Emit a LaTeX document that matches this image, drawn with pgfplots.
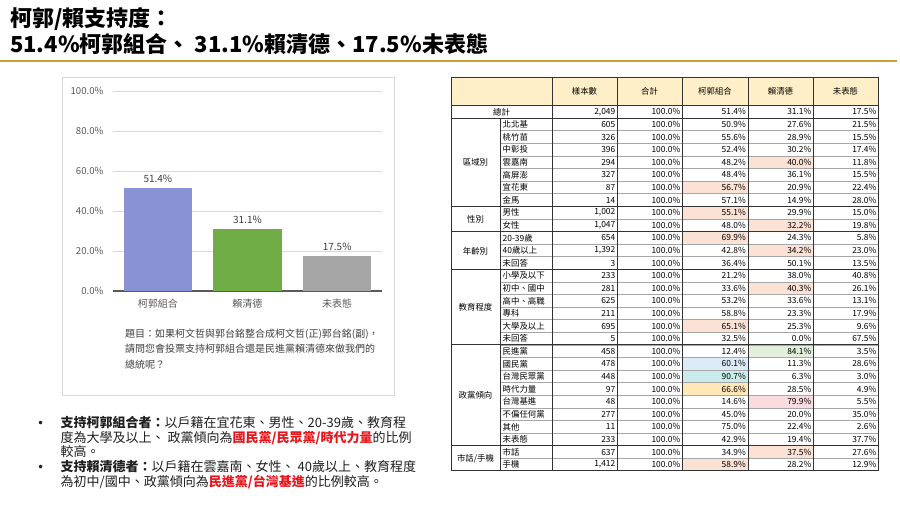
\documentclass[border=0pt]{standalone}
\usepackage{pgfplots}
\pgfplotsset{compat=1.18}
\usepackage{fontspec}
\setmainfont{Noto Sans CJK TC}
\newfontfamily\dejavu{DejaVu Sans}

\definecolor{gold}{HTML}{C9A133}
\definecolor{boxgray}{HTML}{D9D9D9}
\definecolor{gridgray}{HTML}{D9D9D9}
\definecolor{axisgray}{HTML}{595959}
\definecolor{labgray}{HTML}{595959}
\definecolor{txtgray}{HTML}{404040}
\definecolor{barA}{HTML}{8A92D6}
\definecolor{barB}{HTML}{70AD47}
\definecolor{barC}{HTML}{A6A6A6}
\definecolor{hdr}{HTML}{FFEFC8}
\definecolor{peach}{HTML}{FBE2D5}
\definecolor{lgreen}{HTML}{E2EFDA}
\definecolor{lblue}{HTML}{DDEBF7}
\definecolor{lteal}{HTML}{C9ECEA}
\definecolor{lorange}{HTML}{FFE7B8}
\definecolor{lpink}{HTML}{FADCE0}
\definecolor{rowline}{HTML}{A6A6A6}
\definecolor{darkline}{HTML}{333333}
\definecolor{hot}{HTML}{E8161B}

\newcommand{\tf}{\fontsize{8.4}{9}\selectfont}
% one data row of the table
\newcommand{\trow}[6]{%
  \pgfmathsetmacro{\yc}{118+12.6*#1+6.5}%
  \node[anchor=west,inner sep=0pt,font=\tf] at (502.5,\yc) {#2};%
  \node[anchor=east,inner sep=0pt,font=\tf] at (615.5,\yc) {#3};%
  \node[anchor=east,inner sep=0pt,font=\tf] at (680.5,\yc) {100.0\%};%
  \node[anchor=east,inner sep=0pt,font=\tf] at (746,\yc) {#4\%};%
  \node[anchor=east,inner sep=0pt,font=\tf] at (811.5,\yc) {#5\%};%
  \node[anchor=east,inner sep=0pt,font=\tf] at (876.5,\yc) {#6\%};%
}
% highlighted cell
\newcommand{\hl}[4]{%
  \pgfmathsetmacro{\ya}{118+12.6*#1}%
  \pgfmathsetmacro{\yb}{118+12.6*(#1+1)}%
  \fill[#4] (#2,\ya) rectangle (#3,\yb);%
}
\newcommand{\hlk}[2]{\hl{#1}{682}{748}{#2}}
\newcommand{\hll}[2]{\hl{#1}{748}{813}{#2}}

\begin{document}
\begin{tikzpicture}[x=1pt,y=-1pt]
\useasboundingbox (0,0) rectangle (900,506);
\fill[white] (0,0) rectangle (900,506);

% title
\node[anchor=base west,inner sep=0pt,font=\fontsize{22}{22}\selectfont\bfseries] at (10,27) {柯郭/賴支持度：};
\node[anchor=base west,inner sep=0pt,font=\fontsize{22}{22}\selectfont\bfseries] at (10,52) {51.4\%柯郭組合、 31.1\%賴清德、17.5\%未表態};
\draw[gold,line width=2pt] (0,61) -- (897,61);

% chart box
\draw[boxgray,fill=white,line width=0.8pt] (62,77) rectangle (394,395);

\begin{axis}[
  at={(113pt,-291pt)}, anchor=south west,
  scale only axis, width=269pt, height=200pt,
  xmin=-0.5, xmax=2.5, ymin=0, ymax=100,
  ybar, bar width=68pt, bar shift=0pt,
  axis x line*=bottom, axis y line*=left,
  y axis line style={draw=none},
  x axis line style={draw=axisgray,line width=1.2pt,-},
  xtick={0,1,2}, xticklabels={柯郭組合,賴清德,未表態},
  ytick={0,20,40,60,80,100},
  ymajorgrids, major grid style={draw=gridgray,line width=0.8pt},
  major tick length=0pt,
  /pgf/number format/assume math mode=true,
  yticklabel={\pgfmathprintnumber[fixed,fixed zerofill,precision=1]{\tick}\%},
  yticklabel style={font=\fontsize{9.6}{10}\selectfont,text=labgray,xshift=-6pt},
  xticklabel style={font=\fontsize{10}{10}\selectfont,text=labgray,yshift=-5pt},
  nodes near coords={\pgfmathprintnumber[fixed,fixed zerofill,precision=1]{\pgfplotspointmeta}\%},
  nodes near coords style={font=\fontsize{10}{10}\selectfont,text=txtgray,yshift=2pt},
  clip=false,
]
\addplot[fill=barA,draw=none] coordinates {(0,51.4)};
\addplot[fill=barB,draw=none] coordinates {(1,31.1)};
\addplot[fill=barC,draw=none] coordinates {(2,17.5)};
\end{axis}

% question text
\begin{scope}[every node/.style={anchor=base west,inner sep=0pt,font=\fontsize{10}{10}\selectfont,text=txtgray}]
\node at (125,337) {題目：如果柯文哲與郭台銘整合成柯文哲(正)郭台銘(副)，};
\node at (125,352.5) {請問您會投票支持柯郭組合還是民進黨賴清德來做我們的};
\node at (125,368) {總統呢？};
\end{scope}

% bullets
\begin{scope}[every node/.style={anchor=base west,inner sep=0pt,font=\fontsize{13}{13}\selectfont,text=black!88}]
\node[font=\dejavu\fontsize{12}{12}\selectfont] at (37,427.5) {•};
\node[font=\dejavu\fontsize{12}{12}\selectfont] at (37,471.5) {•};
\node at (60.5,427.5) {\textbf{支持柯郭組合者：}以戶籍在宜花東、男性、20-39歲、教育程};
\node at (60.5,442) {度為大學及以上、 政黨傾向為\textbf{\color{hot}國民黨/民眾黨/時代力量}的比例};
\node at (60.5,456.5) {較高。};
\node at (60.5,471.5) {\textbf{支持賴清德者：}以戶籍在雲嘉南、女性、 40歲以上、教育程度};
\node at (60.5,486) {為初中/國中、政黨傾向為\textbf{\color{hot}民進黨/台灣基進}的比例較高。};
\end{scope}

% table fills
\fill[hdr] (451,77) rectangle (878,105);
\hll{3}{peach}
\hlk{5}{peach}
\hlk{7}{peach}
\hll{8}{peach}
\hlk{9}{peach}
\hll{10}{peach}
\hll{13}{peach}
\hlk{16}{peach}
\hll{18}{lgreen}
\hlk{19}{lblue}
\hlk{20}{lteal}
\hlk{21}{lorange}
\hll{22}{lpink}
\hll{26}{peach}
\hlk{27}{peach}

% table lines
\foreach \i in {1,...,27} {
  \pgfmathsetmacro{\yy}{118+12.6*\i}
  \draw[rowline,line width=0.6pt] (500,\yy) -- (878,\yy);
}
\foreach \i in {7,9,12,18,26} {
  \pgfmathsetmacro{\yy}{118+12.6*\i}
  \draw[darkline,line width=0.8pt] (451,\yy) -- (878,\yy);
}
\draw[darkline,line width=0.8pt] (451,105) -- (878,105);
\draw[darkline,line width=0.8pt] (451,118) -- (878,118);
\foreach \x in {552,617,682,748,813}
  \draw[darkline,line width=0.7pt] (\x,77) -- (\x,470.8);
\draw[darkline,line width=0.7pt] (500,118) -- (500,470.8);
\draw[darkline,line width=0.9pt] (451,77) rectangle (878,470.8);

% header and total row
\begin{scope}[every node/.style={inner sep=0pt,font=\tf}]
\node at (584.5,91) {樣本數};
\node at (649.5,91) {合計};
\node at (715,91) {柯郭組合};
\node at (780.5,91) {賴清德};
\node at (845.5,91) {未表態};
\node at (501.5,111.8) {總計};
\node[anchor=east] at (615.5,111.8) {2,049};
\node[anchor=east] at (680.5,111.8) {100.0\%};
\node[anchor=east] at (746,111.8) {51.4\%};
\node[anchor=east] at (811.5,111.8) {31.1\%};
\node[anchor=east] at (876.5,111.8) {17.5\%};
\node at (475.5,162.8) {區域別};
\node at (475.5,219.3) {性別};
\node at (475.5,250.8) {年齡別};
\node at (475.5,307.5) {教育程度};
\node at (475.5,395.7) {政黨傾向};
\node at (475.5,458.7) {市話/手機};
\end{scope}

% table rows
\trow{0}{北北基}{605}{50.9}{27.6}{21.5}
\trow{1}{桃竹苗}{326}{55.6}{28.9}{15.5}
\trow{2}{中彰投}{396}{52.4}{30.2}{17.4}
\trow{3}{雲嘉南}{294}{48.2}{40.0}{11.8}
\trow{4}{高屏澎}{327}{48.4}{36.1}{15.5}
\trow{5}{宜花東}{87}{56.7}{20.9}{22.4}
\trow{6}{金馬}{14}{57.1}{14.9}{28.0}
\trow{7}{男性}{1,002}{55.1}{29.9}{15.0}
\trow{8}{女性}{1,047}{48.0}{32.2}{19.8}
\trow{9}{20-39歲}{654}{69.9}{24.3}{5.8}
\trow{10}{40歲以上}{1,392}{42.8}{34.2}{23.0}
\trow{11}{未回答}{3}{36.4}{50.1}{13.5}
\trow{12}{小學及以下}{233}{21.2}{38.0}{40.8}
\trow{13}{初中、國中}{281}{33.6}{40.3}{26.1}
\trow{14}{高中、高職}{625}{53.2}{33.6}{13.1}
\trow{15}{專科}{211}{58.8}{23.3}{17.9}
\trow{16}{大學及以上}{695}{65.1}{25.3}{9.6}
\trow{17}{未回答}{5}{32.5}{0.0}{67.5}
\trow{18}{民進黨}{458}{12.4}{84.1}{3.5}
\trow{19}{國民黨}{478}{60.1}{11.3}{28.6}
\trow{20}{台灣民眾黨}{448}{90.7}{6.3}{3.0}
\trow{21}{時代力量}{97}{66.6}{28.5}{4.9}
\trow{22}{台灣基進}{48}{14.6}{79.9}{5.5}
\trow{23}{不偏任何黨}{277}{45.0}{20.0}{35.0}
\trow{24}{其他}{11}{75.0}{22.4}{2.6}
\trow{25}{未表態}{233}{42.9}{19.4}{37.7}
\trow{26}{市話}{637}{34.9}{37.5}{27.6}
\trow{27}{手機}{1,412}{58.9}{28.2}{12.9}
\end{tikzpicture}
\end{document}
